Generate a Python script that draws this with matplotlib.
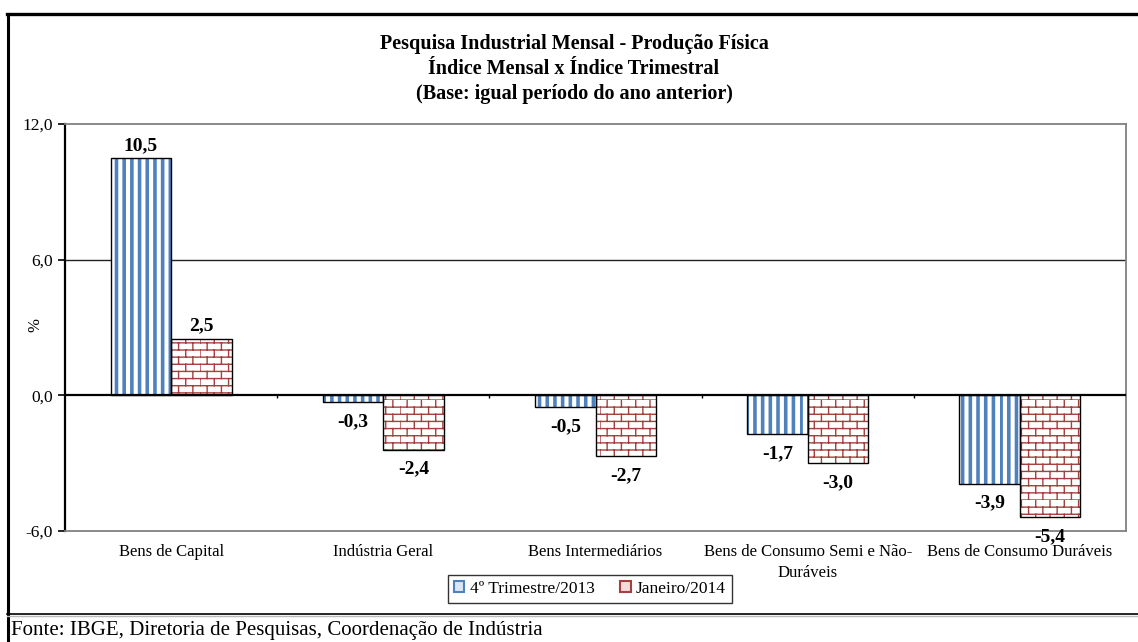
import numpy as np
import matplotlib
matplotlib.use("Agg")
import matplotlib.pyplot as plt
import matplotlib.hatch as mhatch
from matplotlib.path import Path
from matplotlib.lines import Line2D
from matplotlib.patches import Patch
import warnings

# data
categories = ["Bens de Capital", "Indústria Geral", "Bens Intermediários",
              "Bens de Consumo Semi e Não-\nDuráveis", "Bens de Consumo Duráveis"]
trimestre = [10.5, -0.3, -0.5, -1.7, -3.9]
janeiro = [2.5, -2.4, -2.7, -3.0, -5.4]
series_names = ["4º Trimestre/2013", "Janeiro/2014"]
yticks = [-6, 0, 6, 12]

BLUE = "#4F81BD"
RED = "#A5403E"


class StripeHatch(mhatch.HatchPatternBase):
    """thick vertical stripes, hatch char 's'"""
    def __init__(self, hatch, density):
        self.n = int(hatch.count('s') * 13)
        self.sub = 3
        self.num_vertices = self.n * self.sub * 2

    def set_vertices_and_codes(self, vertices, codes):
        xs = []
        for i in range(self.n):
            for k in range(self.sub):
                xs.append(i / self.n + k * 0.011)
        xs = np.array(xs)
        vertices[0::2, 0] = xs
        vertices[0::2, 1] = 0.0
        vertices[1::2, 0] = xs
        vertices[1::2, 1] = 1.0
        codes[0::2] = Path.MOVETO
        codes[1::2] = Path.LINETO


class BrickHatch(mhatch.HatchPatternBase):
    """brick wall, hatch char 'b'"""
    def __init__(self, hatch, density):
        self.rows = int(hatch.count('b') * 14)
        self.cols = 7
        self.num_vertices = self.rows * 2 * (1 + self.cols)

    def set_vertices_and_codes(self, vertices, codes):
        verts = []
        h = 1.0 / self.rows
        w = 1.0 / self.cols
        for r in range(self.rows):
            y0 = r * h
            verts += [(0.0, y0), (1.0, y0)]
            off = 0.0 if r % 2 == 0 else w / 2
            for c in range(self.cols):
                xx = off + c * w
                verts += [(xx, y0), (xx, y0 + h)]
        vertices[:] = np.array(verts)
        codes[0::2] = Path.MOVETO
        codes[1::2] = Path.LINETO


mhatch._hatch_types.append(StripeHatch)
mhatch._hatch_types.append(BrickHatch)
warnings.filterwarnings("ignore")

plt.rcParams['font.family'] = ['Liberation Serif', 'DejaVu Serif']
plt.rcParams['hatch.linewidth'] = 1.0

fig = plt.figure(figsize=(11.38, 6.42), dpi=100)
ax = fig.add_axes([65 / 1138, 1 - 531 / 642, (1126 - 65) / 1138, (531 - 124) / 642])

x = np.arange(len(categories))
bw = 0.285

ax.bar(x - bw / 2, trimestre, bw, color="white", edgecolor=BLUE, hatch="s", linewidth=0, zorder=3)
ax.bar(x + bw / 2, janeiro, bw, color="white", edgecolor=RED, hatch="b", linewidth=0, zorder=3)
ax.bar(x - bw / 2, trimestre, bw, color="none", edgecolor="black", linewidth=1.0, zorder=4)
ax.bar(x + bw / 2, janeiro, bw, color="none", edgecolor="black", linewidth=1.0, zorder=4)

# value labels
for xs, vals in ((x - bw / 2, trimestre), (x + bw / 2, janeiro)):
    for xi, v in zip(xs, vals):
        lab = f"{v:.1f}".replace(".", ",")
        if v >= 0:
            ax.annotate(lab, (xi, v), xytext=(0, 3), textcoords="offset points",
                        ha="center", va="bottom", fontsize=14, fontweight="bold", zorder=5)
        else:
            ax.annotate(lab, (xi, v), xytext=(0, -8), textcoords="offset points",
                        ha="center", va="top", fontsize=14, fontweight="bold", zorder=5)

ax.set_xlim(-0.5, len(categories) - 0.5)
ax.set_ylim(yticks[0], yticks[-1])
ax.set_yticks(yticks)
ax.set_yticklabels([f"{t:.1f}".replace(".", ",") for t in yticks], fontsize=12.5)
ax.set_xticks(x)
ax.set_xticklabels(categories, fontsize=12, linespacing=1.45)
ax.tick_params(axis="x", length=0, pad=9)
ax.tick_params(axis="y", length=5, width=1.2, direction="out", pad=4)

ax.axhline(6, color="#222222", linewidth=1.0, zorder=1)
ax.axhline(0, color="black", linewidth=1.6, zorder=6)
ax.vlines(np.arange(len(categories) - 1) + 0.5, -0.12, 0, color="black", linewidth=1.0, zorder=6)

ax.spines["left"].set_color("black")
ax.spines["left"].set_linewidth(1.6)
for s in ("top", "right", "bottom"):
    ax.spines[s].set_color("#808080")
    ax.spines[s].set_linewidth(1.3)

fig.text(35 / 1138, 1 - 325 / 642, "%", rotation=90, ha="center", va="center", fontsize=12)

# titles
for ypx, line in ((44, "Pesquisa Industrial Mensal - Produção Física"),
                  (69, "Índice Mensal x Índice Trimestral"),
                  (94, "(Base: igual período do ano anterior)")):
    fig.text(574 / 1138, 1 - ypx / 642, line, ha="center", va="center",
             fontsize=14.5, fontweight="bold")

handles = [Patch(facecolor="#DCE6F2", edgecolor=BLUE, linewidth=1.5),
           Patch(facecolor="#F2DCDB", edgecolor=RED, linewidth=1.5)]
leg = fig.legend(handles, series_names, loc="center", bbox_to_anchor=(590 / 1138, 1 - 589 / 642),
                 ncol=2, fontsize=12.5, frameon=True, fancybox=False, edgecolor="black",
                 handlelength=0.6, handleheight=0.6, handletextpad=0.3, columnspacing=1.5,
                 borderpad=0.35)
leg.get_frame().set_linewidth(1.0)

# outer frame
fig.add_artist(Line2D([7.5 / 1138, 7.5 / 1138], [0, 1 - 14 / 642], color="black", linewidth=2.2))
fig.add_artist(Line2D([6.5 / 1138, 1], [1 - 14 / 642, 1 - 14 / 642], color="black", linewidth=2.4))
fig.add_artist(Line2D([7 / 1138, 1], [1 - 613.5 / 642, 1 - 613.5 / 642], color="black", linewidth=1.2))
fig.add_artist(Line2D([7 / 1138, 1], [1 - 616 / 642, 1 - 616 / 642], color="#BBBBBB", linewidth=1.0))

fig.text(11 / 1138, 1 - 630 / 642, "Fonte: IBGE, Diretoria de Pesquisas, Coordenação de Indústria",
         ha="left", va="center", fontsize=15)

fig.savefig("out.png", dpi=100)
